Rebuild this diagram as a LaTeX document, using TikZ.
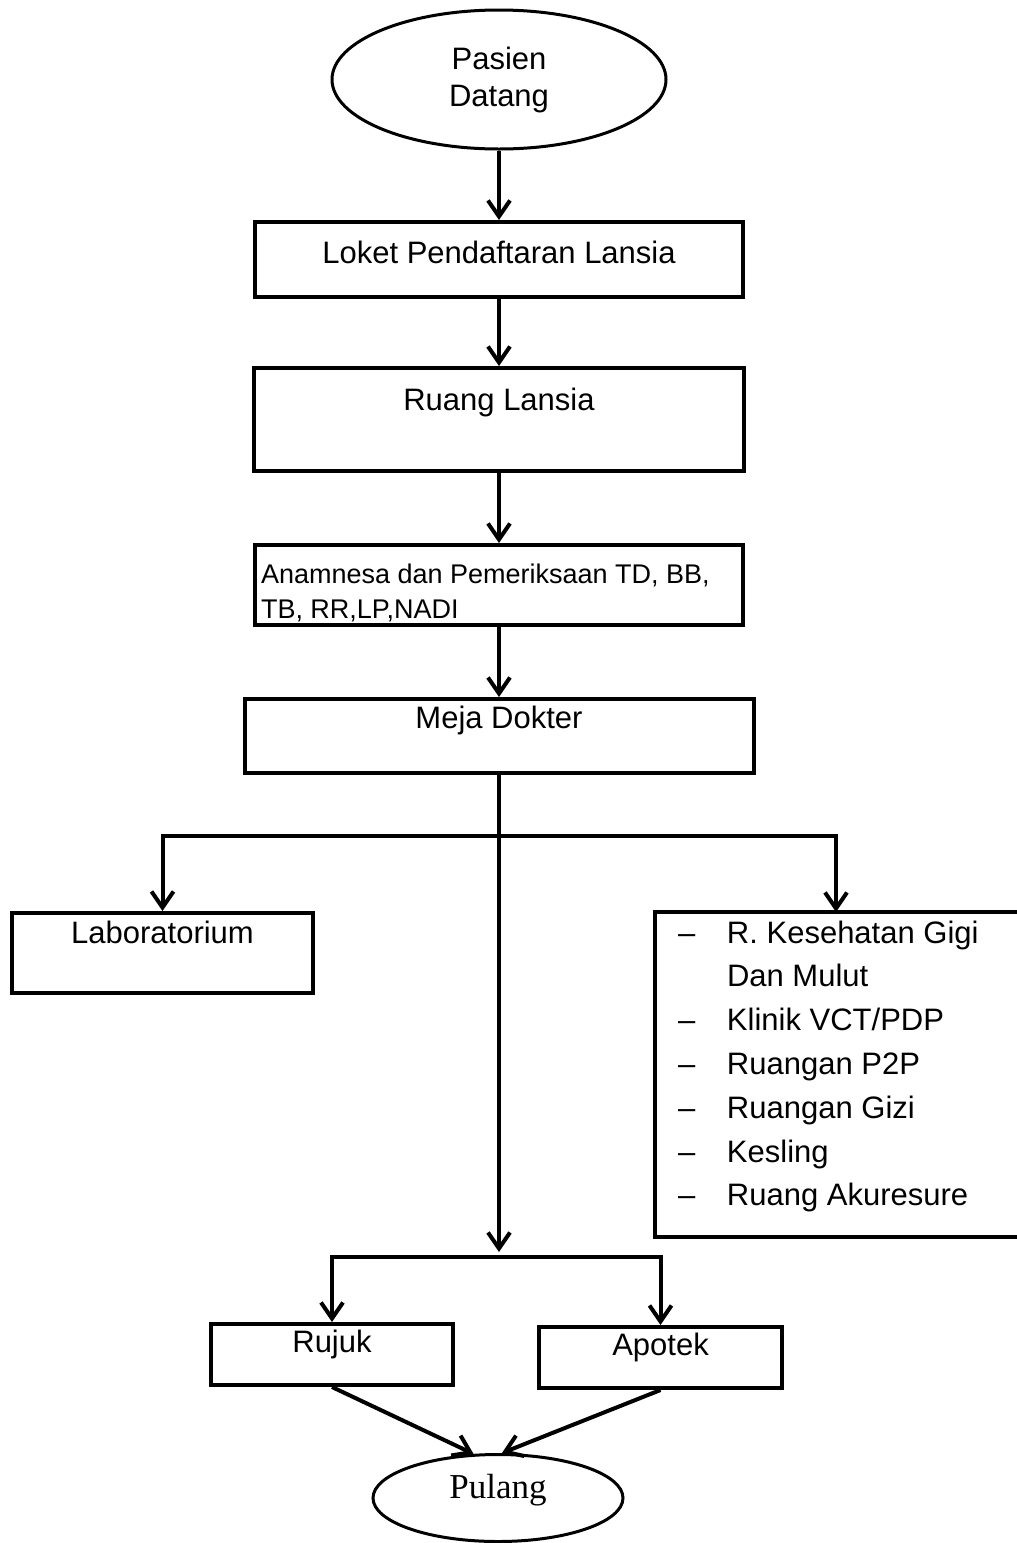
\documentclass[tikz,border=0pt]{standalone}
\usepackage{fontspec}
\setmainfont{Liberation Sans}
\newfontfamily\pulangfont{Liberation Serif}
\usetikzlibrary{arrows.meta,shapes.geometric}
\newcommand{\poli}[1]{\hspace*{23pt}\makebox[49pt][l]{--}#1}

\begin{document}
\begin{tikzpicture}[x=1pt,y=-1pt,
  box/.style={draw,line width=4pt,inner sep=0pt,font=\fontsize{31pt}{37pt}\selectfont},
  teks/.style={text height=22pt,text depth=#1},
  oval/.style={ellipse,draw,line width=3pt,inner sep=0pt},
  panah/.style={line width=4pt,-{Straight Barb[length=16pt,width=22pt]}},
  garis/.style={line width=4pt}]
\useasboundingbox (0,0) rectangle (1017,1543);

\node[oval,minimum width=334pt,minimum height=139pt,align=center,font=\fontsize{31pt}{37pt}\selectfont] (pasien) at (499,79.5) {Pasien\\Datang};
\node[box,teks=15pt,minimum width=488pt,minimum height=75pt] (loket) at (499,259.5) {Loket Pendaftaran Lansia};
\node[box,teks=41pt,minimum width=490pt,minimum height=103pt] (ruang) at (499,419.5) {Ruang Lansia};
\node[box,minimum width=488pt,minimum height=80pt] (anamnesa) at (499,585) {\begin{minipage}[t][80pt][t]{488pt}\fontsize{27pt}{35pt}\selectfont
  \hspace*{6pt}\rule{0pt}{38pt}Anamnesa dan Pemeriksaan TD, BB,\\
  \hspace*{6pt}TB, RR,LP,NADI\end{minipage}};
\node[box,teks=38pt,minimum width=509pt,minimum height=74pt] (meja) at (499,736) {Meja Dokter};

% cabang ke lab dan poli
\coordinate (cabang) at (499,836);
\node[box,teks=42pt,minimum width=301pt,minimum height=80pt] (lab) at (162.5,953) {Laboratorium};
\node[box,draw=none,outer sep=0pt,anchor=north west,minimum width=362pt,minimum height=325pt] (poli) at (655,912) {\begin{minipage}[t][325pt][t]{362pt}\fontsize{31pt}{43.8pt}\selectfont
  \rule{0pt}{31pt}\poli{R. Kesehatan Gigi}\\
  \hspace*{72pt}Dan Mulut\\
  \poli{Klinik VCT/PDP}\\
  \poli{Ruangan P2P}\\
  \poli{Ruangan Gizi}\\
  \poli{Kesling}\\
  \poli{Ruang Akuresure}\end{minipage}};
\draw[garis] (poli.north east) -- (poli.north west) -- (poli.south west) -- (poli.south east);

% akhir
\coordinate (pisah) at (499,1257);
\node[box,teks=27pt,minimum width=242pt,minimum height=61pt] (rujuk) at (332,1354.5) {Rujuk};
\node[box,teks=27pt,minimum width=243pt,minimum height=61pt] (apotek) at (660.5,1357.5) {Apotek};
\node[oval,minimum width=250pt,minimum height=87pt,font=\pulangfont\fontsize{35pt}{39pt}\selectfont,text height=23pt,text depth=23pt] (pulang) at (498,1498) {Pulang};

\draw[panah] (pasien) -- (loket);
\draw[panah] (loket) -- (ruang);
\draw[panah] (ruang) -- (anamnesa);
\draw[panah] (anamnesa) -- (meja);
\draw[panah,shorten >=5pt] (meja) -- (pisah);
\draw[panah] (cabang) -| (lab);
\draw[panah] (cabang) -| (poli);
\draw[panah] (pisah) -| (rujuk);
\draw[panah] (pisah) -| (apotek);
\draw[panah] (rujuk.south) -- (pulang.119);
\draw[panah] (apotek.south) -- (pulang.85);

\end{tikzpicture}
\end{document}
